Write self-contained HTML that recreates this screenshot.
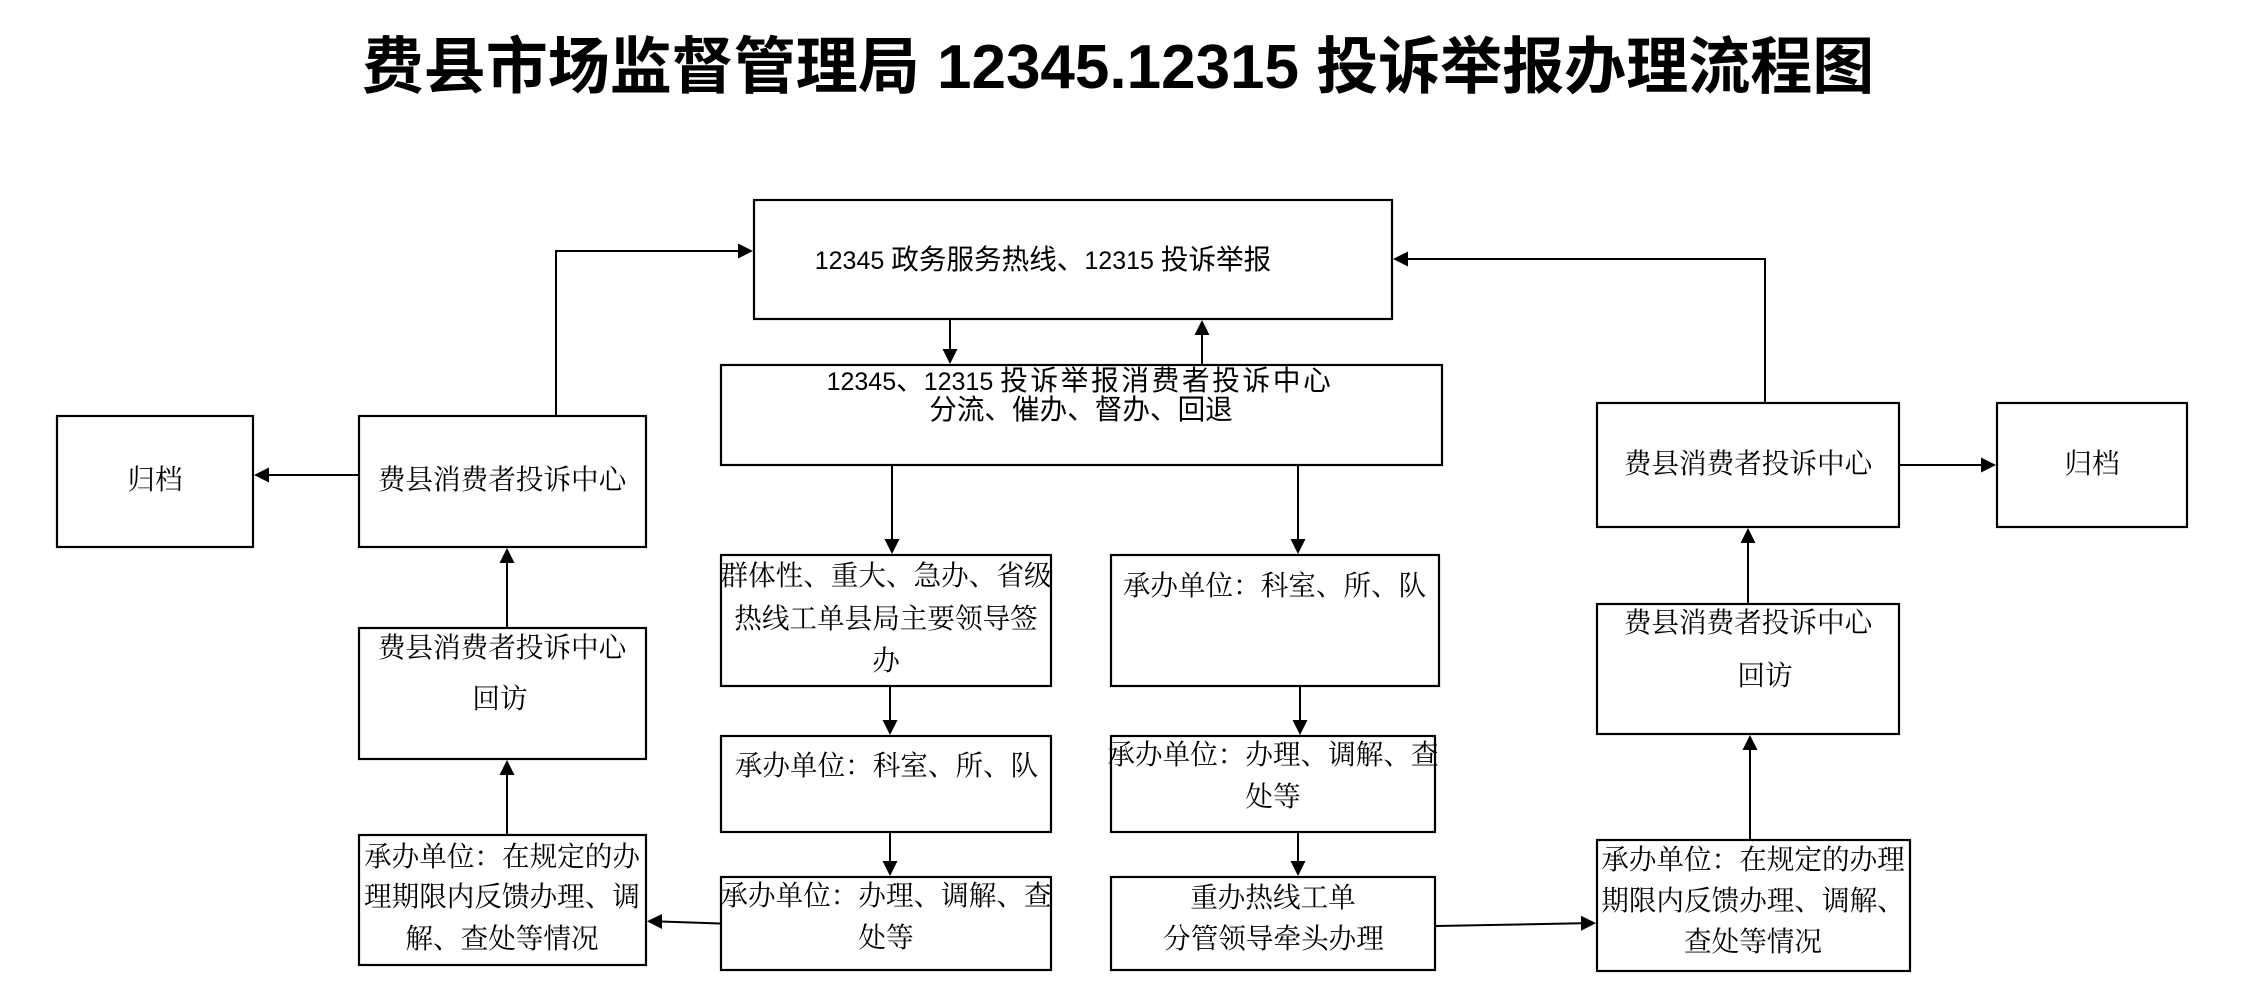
<!DOCTYPE html>
<html>
<head>
<meta charset="utf-8">
<style>
  html, body { margin:0; padding:0; background:#fff; }
  body { width:2245px; height:1007px; position:relative; overflow:hidden; }
  svg { position:absolute; left:0; top:0; }
  .t { position:absolute; width:700px; height:40px; line-height:40px; text-align:center; white-space:nowrap;
       font-family:"Liberation Serif","Noto Serif CJK SC","Noto Sans CJK SC",serif; font-size:27.6px; color:#000; }
  .s { font-family:"Liberation Sans","Noto Sans CJK SC",sans-serif; }
  .d { font-family:"Liberation Sans",sans-serif; font-size:25px; }
  .title { position:absolute; left:318px; top:33px; width:1600px; height:70px; line-height:70px; text-align:center; white-space:nowrap;
       font-family:"Liberation Sans","Noto Sans CJK SC",sans-serif; font-weight:bold; font-size:62px; color:#000; }
</style>
</head>
<body>
<svg width="2245" height="1007" viewBox="0 0 2245 1007" xmlns="http://www.w3.org/2000/svg">
  <g fill="none" stroke="#000" stroke-width="2.2">
    <rect x="754" y="200" width="638" height="119"/>
    <rect x="721" y="365" width="721" height="100"/>
    <rect x="57" y="416" width="196" height="131"/>
    <rect x="359" y="416" width="287" height="131"/>
    <rect x="359" y="628" width="287" height="131"/>
    <rect x="359" y="835" width="287" height="130"/>
    <rect x="721" y="555" width="330" height="131"/>
    <rect x="721" y="736" width="330" height="96"/>
    <rect x="721" y="877" width="330" height="93"/>
    <rect x="1111" y="555" width="328" height="131"/>
    <rect x="1111" y="736" width="324" height="96"/>
    <rect x="1111" y="877" width="324" height="93"/>
    <rect x="1597" y="403" width="302" height="124"/>
    <rect x="1997" y="403" width="190" height="124"/>
    <rect x="1597" y="604" width="302" height="130"/>
    <rect x="1597" y="840" width="313" height="131"/>
  </g>
  <g fill="none" stroke="#000" stroke-width="2">
    <line x1="950" y1="320" x2="950" y2="350"/>
    <line x1="1202" y1="364" x2="1202" y2="334"/>
    <line x1="892" y1="466" x2="892" y2="540"/>
    <line x1="1298" y1="466" x2="1298" y2="540"/>
    <line x1="890" y1="687" x2="890" y2="721"/>
    <line x1="890" y1="833" x2="890" y2="862"/>
    <line x1="1300" y1="687" x2="1300" y2="721"/>
    <line x1="1298" y1="833" x2="1298" y2="862"/>
    <line x1="720" y1="923.5" x2="661" y2="921.5"/>
    <line x1="1436" y1="926" x2="1582" y2="923.3"/>
    <line x1="507" y1="834" x2="507" y2="774"/>
    <line x1="507" y1="627" x2="507" y2="562"/>
    <line x1="358" y1="475" x2="268" y2="475"/>
    <polyline points="556,415 556,251 739,251"/>
    <line x1="1750" y1="839" x2="1750" y2="749"/>
    <line x1="1748" y1="603" x2="1748" y2="542"/>
    <line x1="1900" y1="465" x2="1982" y2="465"/>
    <polyline points="1765,402 1765,259 1407,259"/>
  </g>
  <g fill="#000" stroke="none">
    <polygon points="942.5,349 957.5,349 950,364"/>
    <polygon points="884.5,539 899.5,539 892,554"/>
    <polygon points="1290.5,539 1305.5,539 1298,554"/>
    <polygon points="882.5,720 897.5,720 890,735"/>
    <polygon points="882.5,861 897.5,861 890,876"/>
    <polygon points="1292.5,720 1307.5,720 1300,735"/>
    <polygon points="1290.5,861 1305.5,861 1298,876"/>
    <polygon points="1194.5,335 1209.5,335 1202,320"/>
    <polygon points="499.5,775 514.5,775 507,760"/>
    <polygon points="499.5,563 514.5,563 507,548"/>
    <polygon points="1742.5,750 1757.5,750 1750,735"/>
    <polygon points="1740.5,543 1755.5,543 1748,528"/>
    <polygon points="662,914 662,929 647,921.3"/>
    <polygon points="269,467.5 269,482.5 254,475"/>
    <polygon points="1408,251.5 1408,266.5 1393,259"/>
    <polygon points="1581,915.8 1581,930.8 1596,923.1"/>
    <polygon points="1981,457.5 1981,472.5 1996,465"/>
    <polygon points="738,243.5 738,258.5 753,251"/>
  </g>
</svg>

<div class="title">费县市场监督管理局 12345.12315 投诉举报办理流程图</div>

<div class="t s" style="left:693px;top:239.5px;"><span class="d">12345 </span>政务服务热线、<span class="d">12315 </span>投诉举报</div>
<div class="t s" style="left:730px;top:360.5px;"><span class="d">12345</span>、<span class="d">12315 </span><span style="letter-spacing:2.7px">投诉举报消费者投诉中心</span></div>
<div class="t s" style="left:731px;top:390px;">分流、催办、督办、回退</div>

<div class="t" style="left:-195px;top:459.5px;">归档</div>
<div class="t" style="left:152px;top:459.5px;">费县消费者投诉中心</div>
<div class="t" style="left:152px;top:627.5px;">费县消费者投诉中心</div>
<div class="t" style="left:150px;top:678.5px;">回访</div>
<div class="t" style="left:152px;top:836.5px;">承办单位：在规定的办</div>
<div class="t" style="left:152px;top:876.5px;">理期限内反馈办理、调</div>
<div class="t" style="left:152px;top:918.5px;">解、查处等情况</div>

<div class="t" style="left:536px;top:556px;">群体性、重大、急办、省级</div>
<div class="t" style="left:536px;top:598.5px;">热线工单县局主要领导签</div>
<div class="t" style="left:536px;top:640.5px;">办</div>
<div class="t" style="left:536.5px;top:746px;">承办单位：科室、所、队</div>
<div class="t" style="left:536px;top:876px;">承办单位：办理、调解、查</div>
<div class="t" style="left:536px;top:917.5px;">处等</div>

<div class="t" style="left:924.5px;top:565.5px;">承办单位：科室、所、队</div>
<div class="t" style="left:923px;top:734.5px;">承办单位：办理、调解、查</div>
<div class="t" style="left:923px;top:776.5px;">处等</div>
<div class="t" style="left:923px;top:877.5px;">重办热线工单</div>
<div class="t" style="left:923.5px;top:918.5px;">分管领导牵头办理</div>

<div class="t" style="left:1398px;top:443.5px;">费县消费者投诉中心</div>
<div class="t" style="left:1742px;top:443.5px;">归档</div>
<div class="t" style="left:1398px;top:602.5px;">费县消费者投诉中心</div>
<div class="t" style="left:1415px;top:655.5px;">回访</div>
<div class="t" style="left:1403px;top:839.5px;">承办单位：在规定的办理</div>
<div class="t" style="left:1403px;top:880.5px;">期限内反馈办理、调解、</div>
<div class="t" style="left:1403px;top:921.5px;">查处等情况</div>
</body>
</html>
